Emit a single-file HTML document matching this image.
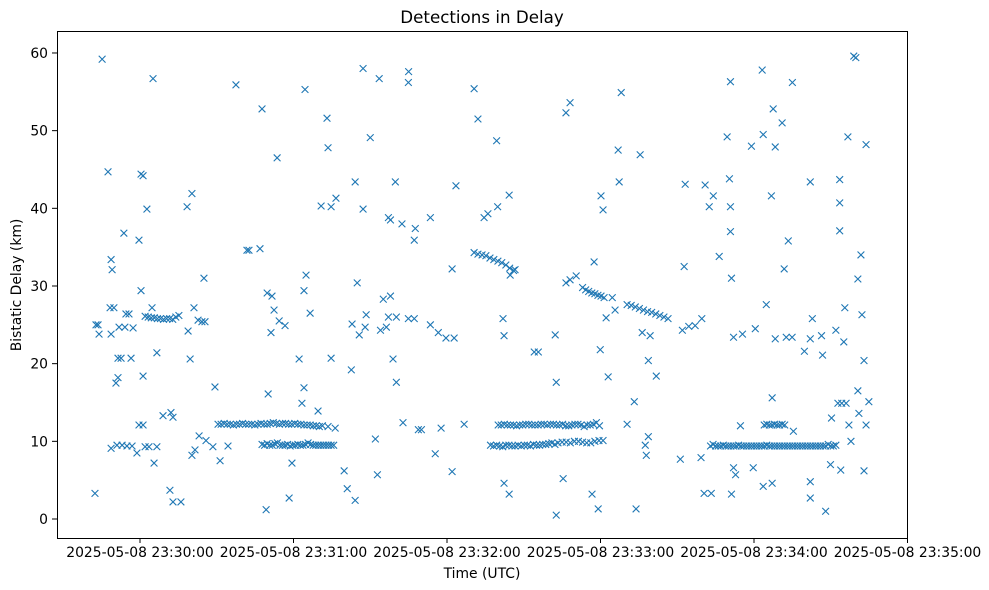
<!DOCTYPE html>
<html><head><meta charset="utf-8">
<style>
html,body{margin:0;padding:0;background:#fff;}
svg{display:block;font-family:"DejaVu Sans","Liberation Sans",sans-serif;}
</style></head>
<body>
<svg id="chart" width="989" height="590" viewBox="0 0 989 590">
<rect x="0" y="0" width="989" height="590" fill="#fff"/>
<text x="482" y="23" font-size="16.7" text-anchor="middle" fill="#000">Detections in Delay</text>
<text x="482" y="578" font-size="13.9" text-anchor="middle" fill="#000">Time (UTC)</text>
<text x="21" y="285" font-size="13.9" text-anchor="middle" fill="#000" transform="rotate(-90 21 285)">Bistatic Delay (km)</text>
<g id="marks"></g>
<g id="axes"></g>
<rect x="57.5" y="31.5" width="850" height="507" fill="none" stroke="#000" stroke-width="1"/>
</svg>
<script>
// seconds after 2025-05-08 23:30:00 UTC
const tickSeconds = [0, 60, 120, 180, 240, 300];
const tickLabels = ["2025-05-08 23:30:00","2025-05-08 23:31:00","2025-05-08 23:32:00","2025-05-08 23:33:00","2025-05-08 23:34:00","2025-05-08 23:35:00"];
const yTicks = [0, 10, 20, 30, 40, 50, 60];

const sparseTimes = [-17.6,-17.2,-16.4,-16,-14.8,-12.5,-11.3,-10.9,-11.7,-10.2,-11.3,-11.3,-9.4,-8.6,-8.6,-7.4,-6.3,-9,-7,-5.1,-3.1,-1.2,-5.5,-4.3,-8.2,-5.9,-2.7,-3.5,-0.4,0.4,1.2,2.7,0.4,1.2,-0.4,1.2,2,3.5,6.6,5.5,5.1,4.7,6.6,9,12.1,12.9,11.7,12.9,16,18.4,20.3,19.6,21.1,18.8,20.3,21.5,23.1,24.2,25.4,22.7,25,25.8,28.5,29.3,31.3,34.4,37.5,41.8,42.6,46.9,47.7,49.7,51.6,49.3,50.1,52.4,51.2,53.6,54.4,56.7,58.3,59.4,62.2,64.5,64.9,64.1,63.3,64.1,66.5,69.6,70.8,73.1,73.5,74.7,76.6,74.7,79.8,81,82.6,84.1,84.1,84.9,82.9,85.7,87.2,87.2,88,88.4,90,92,92.8,93.5,94,95.1,96.3,97.1,97.9,97.1,97.9,99.8,98.9,100.2,100.2,102.8,102.4,104.9,105,107.2,107.6,104.9,107.2,108.8,110,113.5,113.5,116.6,115.4,117.7,119.6,122,122.8,122,123.5,126.7,130.6,132.1,134.5,136,139.8,139.4,141.9,142.3,142.3,144.3,144.3,144.7,146.6,154.1,155.7,162.3,162.7,162.7,165.4,166.5,168.1,166.5,168.1,170.5,177.5,176.7,179.1,179.9,180.2,181,182.2,183,184.6,185.7,186.9,187.3,188.1,190.4,193.2,193.9,195.5,196.3,197.5,197.9,198.7,198.7,199.4,201.8,211.2,212.7,213.1,212,214.5,217,219.3,220.9,219.6,220.5,223.3,222.5,224.1,226.4,229.5,230.8,230.4,230.8,230.8,231.2,232,231.2,232,232.8,235.5,234.7,239,240.5,239.7,243.2,243.6,243.6,244.8,246.8,247.5,248.3,248.3,247.1,247.1,251,251.8,253.4,252.6,254.9,255,255.4,259.7,262,262,262.8,262,262,266.4,266.8,268,270.3,269.9,272,273.5,273.5,273.5,273.9,275.1,275.5,276.7,277.1,277.9,272.8,274.3,276,279,279.8,280.6,280.6,281,281.8,282.2,283,283,283.8,283.8,284.9];
const sparseDelays = [3.3,25,25,23.8,59.2,44.7,33.4,32.1,27.2,27.2,9.1,23.8,17.5,18.2,20.7,20.7,36.8,9.5,9.5,9.4,9.4,8.5,26.4,26.4,24.7,24.7,24.6,20.7,35.9,44.4,44.2,39.9,29.4,18.4,12.1,12.1,9.3,9.3,9.3,7.2,56.7,27.2,21.4,13.3,13.7,13.1,3.7,2.2,2.2,40.2,41.9,20.6,27.2,24.2,8.2,8.9,10.7,25.4,25.4,25.6,31,10.1,9.3,17,7.5,9.4,55.9,34.6,34.6,34.8,52.8,29.1,28.7,1.2,16.1,26.9,24,46.5,25.5,24.9,2.7,7.2,20.6,55.3,31.4,29.4,14.9,16.9,26.5,13.9,40.3,51.6,47.8,40.2,41.3,20.7,6.2,3.9,19.2,2.4,43.4,30.4,25.1,23.7,58,39.9,24.7,26.3,49.1,10.3,5.7,56.7,24.3,28.3,24.7,26,28.7,38.8,38.5,43.4,20.6,17.6,26,12.4,38,56.2,57.6,35.9,37.4,25.8,25.8,11.5,11.5,38.8,25,24,8.4,11.7,23.3,6.1,23.3,32.2,42.9,12.2,55.4,51.5,38.8,39.3,40.2,48.7,25.8,23.6,4.6,3.2,41.7,31.4,32.1,21.5,21.5,23.7,17.6,0.5,5.2,52.3,53.6,30.4,30.8,31.3,33.1,3.2,1.3,21.8,41.6,39.8,25.9,18.3,28.5,26.9,47.5,43.4,54.9,12.2,15.1,1.3,46.9,24,9.5,8.2,10.6,20.4,23.6,18.4,7.7,32.5,43.1,24.3,24.8,24.9,7.9,43,25.8,3.3,3.3,40.2,41.6,33.8,49.2,56.3,43.8,40.2,37,31,23.4,3.2,6.6,5.7,23.8,12,48,24.5,6.6,57.8,49.5,4.2,27.6,41.6,52.8,47.9,23.2,15.6,4.6,51,32.2,35.8,23.4,23.4,56.2,11.3,21.6,23.2,43.4,25.8,4.8,2.7,23.6,21.1,1,13,7,24.3,43.7,37.1,40.7,6.3,22.8,27.2,49.2,12.1,10,14.9,14.9,14.9,59.6,59.4,30.9,16.5,13.6,34,26.3,20.4,6.2,12.1,48.2,15.1];

// dense track segments
const trackTimes = [
2,3.2,4.4,5.6,6.8,8,9.2,10.4,11.6,12.8,14,15.2,
30.5,31.7,32.9,34.1,35.3,36.5,37.7,38.9,40.1,41.3,42.5,43.7,44.9,46.1,47.3,48.5,49.7,50.9,52.1,53.3,54.5,55.7,56.9,58.1,59.3,60.5,61.7,62.9,64.1,65.3,66.5,67.7,68.9,70.1,71.3,73.5,76.3,
47.7,48.7,49.7,50.7,51.7,52.7,53.7,54.7,55.7,56.7,57.7,58.7,59.7,60.7,61.7,62.7,63.7,64.7,65.7,66.7,67.7,68.7,69.7,70.7,71.7,72.7,73.7,74.7,75.7,
130.6,132.1,133.7,135.2,136.8,138.3,139.9,141.4,143,144.5,146,
140,141.2,142.4,143.6,144.8,146,147.2,148.4,149.6,150.8,152,153.2,154.4,155.6,156.8,158,159.2,160.4,161.6,162.8,164,165.2,166.4,167.6,168.8,170,171.2,172.4,173.6,174.8,176,177.2,178.4,179.6,
137,138.2,139.4,140.6,141.8,143,144.2,145.4,146.6,147.8,149,150.2,151.4,152.6,153.8,155,156.2,157.4,158.6,159.8,161,162.2,163.4,165,166.6,168.2,169.8,171.4,173,174.6,176.2,177.8,179.4,181,
173,174.2,175.4,176.6,177.8,179,180.2,181.4,
190.4,192,193.6,195.2,196.8,198.4,200,201.6,203.2,204.8,206.4,
223,224,225,226,227,228,229,230,231,232,233,234,235,236,237,238,239,240,241,242,243,244,245,246,247,248,249,250,251,252,253,254,255,256,257,258,259,260,261,262,263,264,265,266,267,268,269,270,271,272,
244,245,246,247,248,249,250,251,252];
const trackDelays = [
26.1,26,25.9,25.9,25.8,25.8,25.7,25.8,25.8,25.7,26,26.2,
12.2,12.2,12.3,12.2,12.2,12.1,12.2,12.2,12.3,12.2,12.2,12.2,12.1,12.2,12.3,12.2,12.2,12.3,12.4,12.3,12.2,12.3,12.3,12.2,12.2,12.3,12.2,12.2,12.1,12.1,12.1,12,12,11.9,12,11.9,11.7,
9.6,9.5,9.7,9.5,9.5,9.7,9.8,9.5,9.5,9.5,9.6,9.4,9.5,9.5,9.6,9.5,9.5,9.6,9.8,9.6,9.5,9.5,9.5,9.5,9.5,9.5,9.5,9.5,9.5,
34.3,34.1,34,33.9,33.6,33.4,33.2,33,32.7,32.3,32,
12.1,12.1,12.2,12.1,12.1,12.1,12,12.1,12.1,12.2,12.2,12.1,12.1,12.1,12.2,12.2,12.1,12.2,12.2,12.1,12.1,12.2,12,12,12.1,12.2,12.2,12.1,11.9,12.1,12.1,12.2,12.4,12,
9.5,9.4,9.5,9.4,9.3,9.5,9.5,9.4,9.4,9.5,9.4,9.5,9.5,9.4,9.6,9.5,9.5,9.6,9.6,9.7,9.8,9.6,9.8,9.9,9.9,9.8,10,10,9.9,9.8,9.8,10,10.1,10.1,
29.8,29.5,29.3,29.1,29,28.8,28.7,28.5,
27.6,27.5,27.3,27.1,26.9,26.7,26.6,26.4,26.2,26,25.8,
9.4,9.6,9.4,9.4,9.4,9.5,9.4,9.4,9.4,9.4,9.4,9.5,9.4,9.4,9.4,9.4,9.4,9.4,9.4,9.4,9.4,9.4,9.5,9.4,9.4,9.4,9.4,9.4,9.4,9.4,9.4,9.4,9.4,9.4,9.4,9.4,9.4,9.4,9.4,9.4,9.4,9.4,9.4,9.4,9.4,9.4,9.6,9.4,9.4,9.5,
12.1,12.2,12.1,12.1,12.2,12.1,12.1,12.2,12.1];

const NS = "http://www.w3.org/2000/svg";
function xScale(s){ return 140 + s * 153.5 / 60; }
function yScale(km){ return 519 - km * 7.767; }

const marks = document.getElementById('marks');
function drawX(s, km){
  const cx = xScale(s), cy = yScale(km), r = 3.4;
  const p = document.createElementNS(NS, 'path');
  p.setAttribute('d', `M${cx-r},${cy-r}L${cx+r},${cy+r}M${cx-r},${cy+r}L${cx+r},${cy-r}`);
  p.setAttribute('stroke', '#1f77b4');
  p.setAttribute('stroke-width', '1.1');
  p.setAttribute('fill', 'none');
  
  
  marks.appendChild(p);
}
for (let i = 0; i < sparseTimes.length; i++) drawX(sparseTimes[i], sparseDelays[i]);
for (let i = 0; i < trackTimes.length; i++) drawX(trackTimes[i], trackDelays[i]);

const axes = document.getElementById('axes');
tickSeconds.forEach((s, i) => {
  const x = xScale(s);
  const l = document.createElementNS(NS, 'line');
  l.setAttribute('x1', x); l.setAttribute('x2', x);
  l.setAttribute('y1', 538); l.setAttribute('y2', 543);
  l.setAttribute('stroke', '#000');
  
  
  axes.appendChild(l);
  const t = document.createElementNS(NS, 'text');
  t.setAttribute('x', x); t.setAttribute('y', 557);
  t.setAttribute('font-size', '13.9'); t.setAttribute('text-anchor', 'middle');
  t.textContent = tickLabels[i];
  
  
  axes.appendChild(t);
});
yTicks.forEach(v => {
  const y = yScale(v);
  const l = document.createElementNS(NS, 'line');
  l.setAttribute('x1', 52); l.setAttribute('x2', 57);
  l.setAttribute('y1', y); l.setAttribute('y2', y);
  l.setAttribute('stroke', '#000');
  
  
  axes.appendChild(l);
  const t = document.createElementNS(NS, 'text');
  t.setAttribute('x', 48); t.setAttribute('y', y + 5);
  t.setAttribute('font-size', '13.9'); t.setAttribute('text-anchor', 'end');
  t.textContent = String(v);
  
  
  axes.appendChild(t);
});
</script>
</body></html>
